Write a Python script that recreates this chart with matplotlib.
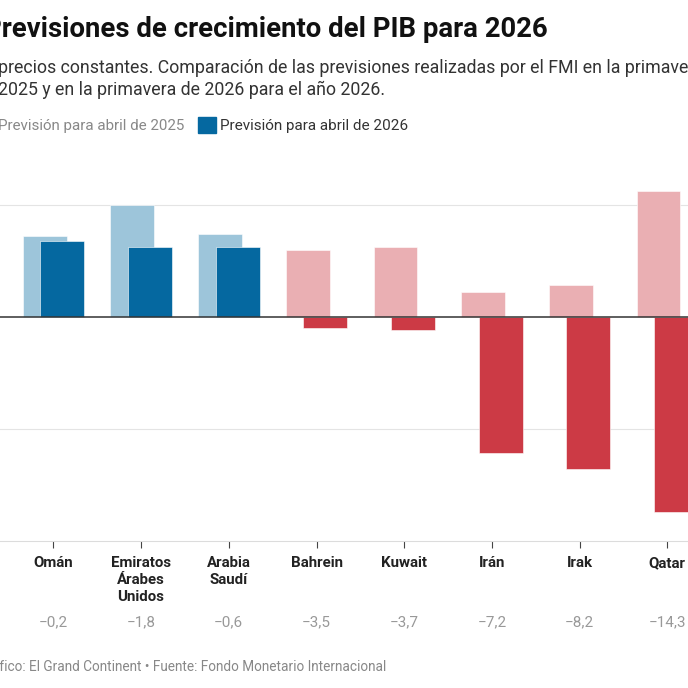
import numpy as np
import matplotlib.pyplot as plt
from matplotlib.patches import Rectangle
from matplotlib.transforms import ScaledTranslation

plt.rcParams['font.family'] = ['Roboto', 'DejaVu Sans']

# datos
paises = ["Omán", "Emiratos\nÁrabes\nUnidos", "Arabia\nSaudí", "Bahrein",
          "Kuwait", "Irán", "Irak", "Qatar"]
prev_2025 = [3.6, 5.0, 3.7, 3.0, 3.1, 1.1, 1.4, 5.6]
prev_2026 = [3.4, 3.1, 3.1, -0.5, -0.6, -6.1, -6.8, -8.7]
diferencias = ["−0,2", "−1,8", "−0,6", "−3,5", "−3,7", "−7,2", "−8,2", "−14,3"]
y_ticks = [5, 0, -5, -10]
y_labels = ["5", "0", "−5", "−10"]

W = 688


def fx(px):
    return px / W


def fy(py):
    return 1 - py / W


azul_claro, azul = '#9dc5da', '#0568a0'
rojo_claro, rojo = '#eaafb3', '#cc3a45'

fig = plt.figure(figsize=(6.88, 6.88), dpi=100)

top_px, bottom_px = 170, 540.7
ax = fig.add_axes([0, fy(bottom_px), 1, (bottom_px - top_px) / W])

x = np.arange(len(paises))
col_2025 = [azul_claro if v >= 0 else rojo_claro for v in prev_2026]
col_2026 = [azul if v >= 0 else rojo for v in prev_2026]

ax.bar(x - 0.1, prev_2025, width=0.5, color=col_2025, edgecolor='white',
       linewidth=0.4, zorder=2)
ax.bar(x + 0.1, prev_2026, width=0.5, color=col_2026, edgecolor='white',
       linewidth=0.4, zorder=2.5)

ax.set_xlim(-0.609, -0.609 + W / 87.7)
ax.set_ylim(-10, (316.7 - top_px) / 22.4)

for v in [5, -5]:
    ax.axhline(v, color='#e4e4e4', lw=0.8, zorder=0)
ax.axhline(0, color='#333333', lw=1.1, zorder=3)

for s in ['top', 'left', 'right']:
    ax.spines[s].set_visible(False)
ax.spines['bottom'].set_color('#dcdcdc')
ax.spines['bottom'].set_linewidth(0.8)

ax.set_yticks([])
ax.set_xticks(x)
ax.set_xticklabels(paises, fontweight='bold', fontsize=10.8, color='#222222',
                   linespacing=1.28)
ax.tick_params(axis='x', length=5, width=0.8, color='#444444', pad=6)

for v, lab in zip(y_ticks, y_labels):
    ax.text(-21 / W, v + 0.15, lab, transform=ax.get_yaxis_transform(),
            ha='left', va='bottom', fontsize=9.5, color='#888888')

# diferencias
desplaz = ScaledTranslation(0, -(626 - bottom_px) / 100, fig.dpi_scale_trans)
for xi, d in zip(x, diferencias):
    ax.text(xi, 0, d, transform=ax.get_xaxis_transform() + desplaz,
            ha='center', va='baseline', fontsize=11, color='#999999')

# título y subtítulo
fig.text(fx(-16), fy(37), "Previsiones de crecimiento del PIB para 2026",
         fontsize=19.8, fontweight='bold', color='#111111', va='baseline')
fig.text(fx(-2.5), fy(73),
         "precios constantes. Comparación de las previsiones realizadas por el FMI en la primavera de",
         fontsize=12.8, color='#333333', va='baseline')
fig.text(fx(-2.5), fy(95), "2025 y en la primavera de 2026 para el año 2026.",
         fontsize=12.8, color='#333333', va='baseline')

# leyenda
fig.patches.append(Rectangle((fx(-24), fy(133.3)), fx(17), 17 / W,
                             transform=fig.transFigure, color=azul_claro))
fig.text(fx(-2), fy(130), "Previsión para abril de 2025", fontsize=10.9,
         color='#888888', va='baseline')
fig.patches.append(Rectangle((fx(198.3), fy(133.3)), fx(17.4), 16.6 / W,
                             transform=fig.transFigure, color=azul))
fig.text(fx(219.5), fy(130), "Previsión para abril de 2026", fontsize=11,
         color='#333333', va='baseline')

# fuente
fig.text(fx(-21.5), fy(670.7),
         "Gráfico: El Grand Continent • Fuente: Fondo Monetario Internacional",
         fontsize=9.8, color='#888888', va='baseline')

fig.savefig('out.png', dpi=100)
